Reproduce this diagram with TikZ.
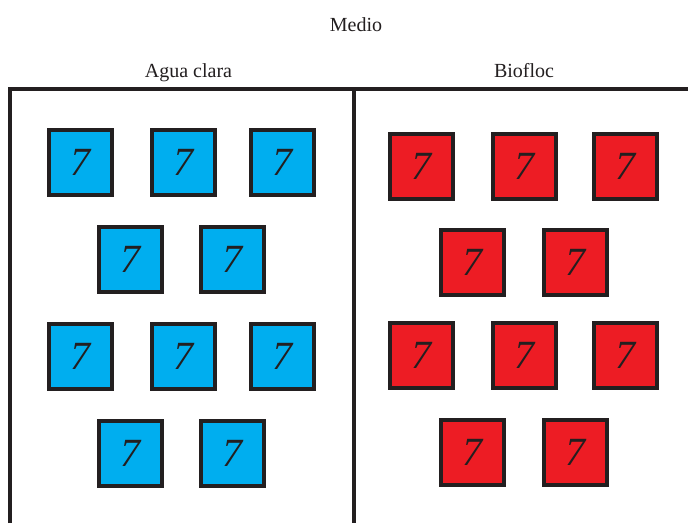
\documentclass[tikz,border=0pt]{standalone}
\usepackage{fontspec}
\setmainfont{Liberation Serif}
\definecolor{cblue}{HTML}{00AEEF}
\definecolor{cred}{HTML}{ED1C24}
\definecolor{cdark}{HTML}{231F20}
\begin{document}
\begin{tikzpicture}[x=1pt,y=-1pt,
  cell/.style={rectangle,draw=cdark,line width=4pt,minimum width=63pt,minimum height=65pt,inner sep=0pt,
     text=cdark,font=\fontsize{40}{40}\selectfont\itshape},
  bluecell/.style={cell,fill=cblue},
  redcell/.style={cell,fill=cred},
  lbl/.style={anchor=base,inner sep=0pt,font=\fontsize{20}{20}\selectfont,text=cdark},
  frame/.style={draw=cdark,line width=4pt}]
\useasboundingbox (0,0) rectangle (688,523);
\fill[white] (0,0) rectangle (688,523);
% frame
\draw[frame] (10.3,523) -- (10.3,88.5) -- (688,88.5);
\draw[frame] (353.5,88.5) -- (353.5,523);
% labels
\node[lbl] (medio) at (356,31.7) {Medio};
\node[lbl] (agua) at (188.5,77.5) {Agua clara};
\node[lbl] (bio) at (524,77.5) {Biofloc};
% blue
\node[bluecell] (b1) at (80.5,162.8) {7};
\node[bluecell] (b2) at (183.5,162.8) {7};
\node[bluecell] (b3) at (282.5,162.8) {7};
\node[bluecell] (b4) at (130,259.5) {7};
\node[bluecell] (b5) at (232.5,259.5) {7};
\node[bluecell] (b6) at (80.5,356.5) {7};
\node[bluecell] (b7) at (183.5,356.5) {7};
\node[bluecell] (b8) at (282.5,356.5) {7};
\node[bluecell] (b9) at (130,453.5) {7};
\node[bluecell] (b10) at (232.5,453.5) {7};
% red
\node[redcell] (r1) at (421.5,166.5) {7};
\node[redcell] (r2) at (524.5,166.5) {7};
\node[redcell] (r3) at (625.5,166.5) {7};
\node[redcell] (r4) at (472.5,262.5) {7};
\node[redcell] (r5) at (575.5,262.5) {7};
\node[redcell] (r6) at (421.5,355.5) {7};
\node[redcell] (r7) at (524.5,355.5) {7};
\node[redcell] (r8) at (625.5,355.5) {7};
\node[redcell] (r9) at (472.5,452.5) {7};
\node[redcell] (r10) at (575.5,452.5) {7};
\end{tikzpicture}
\end{document}
